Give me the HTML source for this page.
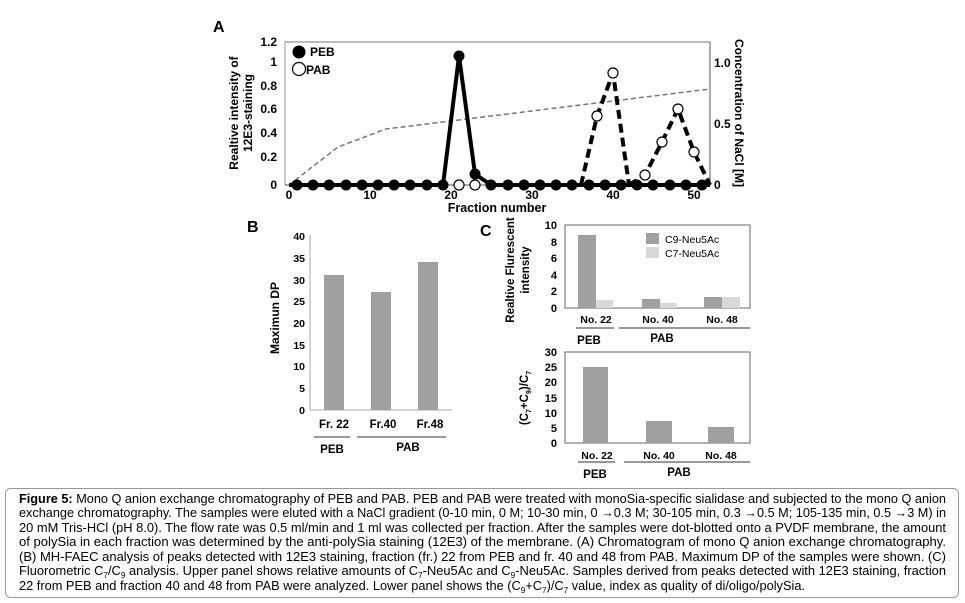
<!DOCTYPE html>
<html><head><meta charset="utf-8"><style>
html,body{margin:0;padding:0;background:#fff;}
svg{display:block;font-family:"Liberation Sans",Arial,sans-serif;}
.b{font-weight:bold;}
</style></head><body>
<svg width="965" height="603" viewBox="0 0 965 603" xmlns="http://www.w3.org/2000/svg">
<!-- Panel A -->
<text x="213" y="32" class="b" font-size="16">A</text>
<g font-size="12" class="b" text-anchor="end">
<text x="277" y="189">0</text><text x="277" y="161">0.2</text><text x="277" y="137">0.4</text>
<text x="277" y="113">0.6</text><text x="277" y="90">0.8</text><text x="277" y="66">1</text><text x="277" y="46">1.2</text>
</g>
<line x1="285" y1="42" x2="285" y2="185" stroke="#999" stroke-width="1"/>
<line x1="285" y1="42" x2="710" y2="42" stroke="#777" stroke-width="1"/>
<line x1="710" y1="42" x2="710" y2="185" stroke="#555" stroke-width="1"/>
<line x1="285" y1="185" x2="710" y2="185" stroke="#555" stroke-width="1"/>
<g font-size="12" class="b" text-anchor="middle">
<text x="289" y="199">0</text><text x="370" y="199">10</text><text x="451" y="199">20</text>
<text x="532" y="199">30</text><text x="613" y="199">40</text><text x="694" y="199">50</text>
</g>
<text x="497" y="212" font-size="12.5" class="b" text-anchor="middle">Fraction number</text>
<text transform="translate(238,113) rotate(-90)" font-size="12" class="b" text-anchor="middle">Realtive intensity of</text>
<text transform="translate(252,113) rotate(-90)" font-size="12" class="b" text-anchor="middle">12E3-staining</text>
<g font-size="12" class="b">
<text x="714" y="67">1.0</text><text x="714" y="128">0.5</text><text x="714" y="189">0</text>
</g>
<text transform="translate(735,113) rotate(90)" font-size="12" class="b" text-anchor="middle">Concentration of NaCl [M]</text>
<polyline points="289,185 338,147 386,129 710,89" fill="none" stroke="#777" stroke-width="1.5" stroke-dasharray="5,3"/>
<polyline points="581,185 597,116 613,73 629,185" fill="none" stroke="#000" stroke-width="4" stroke-dasharray="9,5"/>
<polyline points="629,185 645,175 662,142 678,109 694,152 710,185" fill="none" stroke="#000" stroke-width="4" stroke-dasharray="9,5"/>
<polyline points="289,185 443,185 459,56 475,174 491,185 710,185" fill="none" stroke="#000" stroke-width="4"/>
<g fill="#000">
<circle cx="297" cy="185" r="5.5"/><circle cx="313" cy="185" r="5.5"/><circle cx="329" cy="185" r="5.5"/><circle cx="346" cy="185" r="5.5"/>
<circle cx="362" cy="185" r="5.5"/><circle cx="378" cy="185" r="5.5"/><circle cx="394" cy="185" r="5.5"/><circle cx="410" cy="185" r="5.5"/>
<circle cx="427" cy="185" r="5.5"/><circle cx="443" cy="185" r="5.5"/><circle cx="459" cy="56" r="5.5"/><circle cx="475" cy="174" r="5.5"/>
<circle cx="491" cy="185" r="5.5"/><circle cx="508" cy="185" r="5.5"/><circle cx="524" cy="185" r="5.5"/><circle cx="540" cy="185" r="5.5"/>
<circle cx="556" cy="185" r="5.5"/><circle cx="572" cy="185" r="5.5"/><circle cx="589" cy="185" r="5.5"/><circle cx="605" cy="185" r="5.5"/>
<circle cx="621" cy="185" r="5.5"/><circle cx="637" cy="185" r="5.5"/><circle cx="653" cy="185" r="5.5"/><circle cx="670" cy="185" r="5.5"/>
<circle cx="686" cy="185" r="5.5"/><circle cx="702" cy="185" r="5.5"/>
</g>
<g fill="#fff" stroke="#000" stroke-width="1.2">
<circle cx="459" cy="185" r="5"/><circle cx="475" cy="185" r="5"/>
<circle cx="597" cy="116" r="5"/><circle cx="613" cy="73" r="5"/><circle cx="645" cy="175" r="5"/>
<circle cx="662" cy="142" r="5"/><circle cx="678" cy="109" r="5"/><circle cx="694" cy="152" r="5"/>
</g>
<circle cx="299" cy="52" r="6.5" fill="#000"/>
<text x="310" y="56" font-size="12" class="b">PEB</text>
<circle cx="299" cy="69" r="6.5" fill="#fff" stroke="#000" stroke-width="1.2"/>
<text x="306" y="74" font-size="12" class="b">PAB</text>

<!-- Panel B -->
<text x="247" y="232" class="b" font-size="16">B</text>
<line x1="310" y1="235" x2="310" y2="410" stroke="#aaa"/>
<line x1="310" y1="410" x2="452" y2="410" stroke="#aaa"/>
<g font-size="10.5" class="b" text-anchor="end">
<text x="305" y="414">0</text><text x="305" y="392">5</text><text x="305" y="370">10</text><text x="305" y="349">15</text>
<text x="305" y="327">20</text><text x="305" y="305">25</text><text x="305" y="284">30</text><text x="305" y="262">35</text><text x="305" y="240">40</text>
</g>
<text transform="translate(279,318) rotate(-90)" font-size="12" class="b" text-anchor="middle">Maximun DP</text>
<rect x="324" y="275" width="20" height="135" fill="#a0a0a0"/>
<rect x="371" y="292" width="20" height="118" fill="#a0a0a0"/>
<rect x="418" y="262" width="20" height="148" fill="#a0a0a0"/>
<g font-size="11.5" class="b" text-anchor="middle">
<text x="334" y="428">Fr. 22</text><text x="383" y="428">Fr.40</text><text x="430" y="428">Fr.48</text>
</g>
<line x1="314" y1="437" x2="350" y2="437" stroke="#777" stroke-width="1.5"/>
<line x1="357" y1="437" x2="446" y2="437" stroke="#777" stroke-width="1.5"/>
<text x="332" y="453" font-size="11.5" class="b" text-anchor="middle">PEB</text>
<text x="408" y="451" font-size="11.5" class="b" text-anchor="middle">PAB</text>

<!-- Panel C upper -->
<text x="480" y="236" class="b" font-size="16">C</text>
<rect x="565" y="225" width="185" height="83" fill="none" stroke="#666"/>
<g font-size="11" class="b" text-anchor="end">
<text x="557" y="312">0</text><text x="557" y="295">2</text><text x="557" y="279">4</text><text x="557" y="262">6</text><text x="557" y="246">8</text><text x="557" y="229">10</text>
</g>
<text transform="translate(514,270) rotate(-90)" font-size="11.5" class="b" text-anchor="middle">Realtive Flurescent</text>
<text transform="translate(529,270) rotate(-90)" font-size="11.5" class="b" text-anchor="middle">intensity</text>
<rect x="578" y="235" width="18" height="73" fill="#a0a0a0"/>
<rect x="596" y="300" width="17" height="8" fill="#d8d8d8"/>
<rect x="642" y="299" width="18" height="9" fill="#a0a0a0"/>
<rect x="660" y="303" width="17" height="5" fill="#d8d8d8"/>
<rect x="704" y="297" width="18" height="11" fill="#a0a0a0"/>
<rect x="722" y="297" width="18" height="11" fill="#d8d8d8"/>
<rect x="646" y="233" width="13" height="11" fill="#a0a0a0"/>
<rect x="646" y="247" width="13" height="11" fill="#d8d8d8"/>
<text x="665" y="243" font-size="10.5">C9-Neu5Ac</text>
<text x="665" y="257" font-size="10.5">C7-Neu5Ac</text>
<g font-size="10.5" class="b" text-anchor="middle">
<text x="596" y="323">No. 22</text><text x="658" y="323">No. 40</text><text x="722" y="323">No. 48</text>
</g>
<line x1="576" y1="328" x2="614" y2="328" stroke="#777" stroke-width="1.5"/>
<line x1="619" y1="328" x2="750" y2="328" stroke="#777" stroke-width="1.5"/>
<text x="589" y="344" font-size="11.5" class="b" text-anchor="middle">PEB</text>
<text x="662" y="342" font-size="11.5" class="b" text-anchor="middle">PAB</text>

<!-- Panel C lower -->
<rect x="565" y="352" width="185" height="91" fill="none" stroke="#666"/>
<g font-size="11" class="b" text-anchor="end">
<text x="557" y="447">0</text><text x="557" y="432">5</text><text x="557" y="417">10</text><text x="557" y="402">15</text>
<text x="557" y="386">20</text><text x="557" y="371">25</text><text x="557" y="356">30</text>
</g>
<text transform="translate(528,398) rotate(-90)" font-size="11.5" class="b" text-anchor="middle">(C<tspan font-size="7" dy="3">7</tspan><tspan dy="-3">+C</tspan><tspan font-size="7" dy="3">9</tspan><tspan dy="-3">)/C</tspan><tspan font-size="7" dy="3">7</tspan></text>
<rect x="583" y="367" width="25" height="76" fill="#a0a0a0"/>
<rect x="646" y="421" width="26" height="22" fill="#a0a0a0"/>
<rect x="708" y="427" width="26" height="16" fill="#a0a0a0"/>
<g font-size="10.5" class="b" text-anchor="middle">
<text x="597" y="459">No. 22</text><text x="659" y="459">No. 40</text><text x="721" y="459">No. 48</text>
</g>
<line x1="578" y1="462" x2="615" y2="462" stroke="#777" stroke-width="1.5"/>
<line x1="624" y1="462" x2="750" y2="462" stroke="#777" stroke-width="1.5"/>
<text x="595" y="478" font-size="11.5" class="b" text-anchor="middle">PEB</text>
<text x="679" y="476" font-size="11.5" class="b" text-anchor="middle">PAB</text>

<!-- Caption -->
<rect x="5.5" y="488.5" width="953" height="109" rx="5" fill="none" stroke="#999"/>
<g font-size="12.5" fill="#000">
<text x="19" y="503" textLength="927" lengthAdjust="spacingAndGlyphs"><tspan font-weight="bold">Figure 5:</tspan> Mono Q anion exchange chromatography of PEB and PAB. PEB and PAB were treated with monoSia-specific sialidase and subjected to the mono Q anion</text>
<text x="19" y="517" textLength="927" lengthAdjust="spacingAndGlyphs">exchange chromatography. The samples were eluted with a NaCl gradient (0-10 min, 0 M; 10-30 min, 0 →0.3 M; 30-105 min, 0.3 →0.5 M; 105-135 min, 0.5 →3 M) in</text>
<text x="19" y="532" textLength="927" lengthAdjust="spacingAndGlyphs">20 mM Tris-HCl (pH 8.0). The flow rate was 0.5 ml/min and 1 ml was collected per fraction. After the samples were dot-blotted onto a PVDF membrane, the amount</text>
<text x="19" y="546" textLength="927" lengthAdjust="spacingAndGlyphs">of polySia in each fraction was determined by the anti-polySia staining (12E3) of the membrane. (A) Chromatogram of mono Q anion exchange chromatography.</text>
<text x="19" y="561" textLength="927" lengthAdjust="spacingAndGlyphs">(B) MH-FAEC analysis of peaks detected with 12E3 staining, fraction (fr.) 22 from PEB and fr. 40 and 48 from PAB. Maximum DP of the samples were shown. (C)</text>
<text x="19" y="575" textLength="927" lengthAdjust="spacingAndGlyphs">Fluorometric C<tspan font-size="8" dy="3">7</tspan><tspan dy="-3">/C</tspan><tspan font-size="8" dy="3">9</tspan><tspan dy="-3"> analysis. Upper panel shows relative amounts of C</tspan><tspan font-size="8" dy="3">7</tspan><tspan dy="-3">-Neu5Ac and C</tspan><tspan font-size="8" dy="3">9</tspan><tspan dy="-3">-Neu5Ac. Samples derived from peaks detected with 12E3 staining, fraction</tspan></text>
<text x="19" y="590" textLength="786" lengthAdjust="spacingAndGlyphs">22 from PEB and fraction 40 and 48 from PAB were analyzed. Lower panel shows the (C<tspan font-size="8" dy="3">9</tspan><tspan dy="-3">+C</tspan><tspan font-size="8" dy="3">7</tspan><tspan dy="-3">)/C</tspan><tspan font-size="8" dy="3">7</tspan><tspan dy="-3"> value, index as quality of di/oligo/polySia.</tspan></text>
</g>
</svg>
</body></html>
